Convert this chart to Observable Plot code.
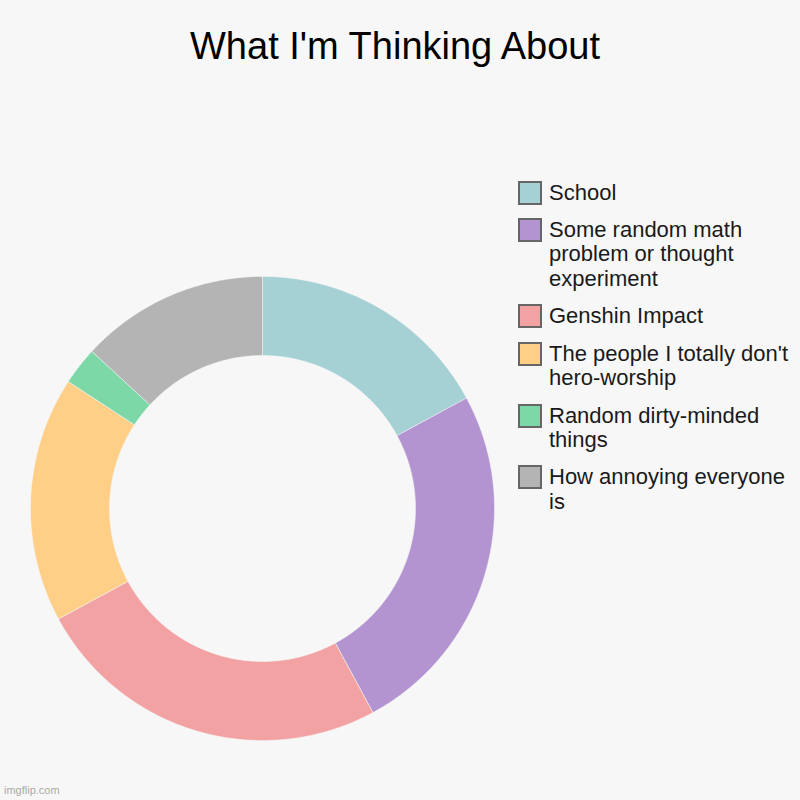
<!DOCTYPE html>
<html>
<head>
<meta charset="utf-8">
<script src="https://cdn.jsdelivr.net/npm/d3@7"></script>
<script src="https://cdn.jsdelivr.net/npm/@observablehq/plot@0.6"></script>
<style>
  html, body { margin: 0; padding: 0; background: #f7f7f7; }
  #page { position: relative; width: 800px; height: 800px; background: #f7f7f7; overflow: hidden; font-family: "Liberation Sans", Arial, sans-serif; }
  #title { position: absolute; left: 0; top: 27px; width: 790px; text-align: center; font-size: 38px; line-height: 38px; color: #000; }
  #chart { position: absolute; left: 0; top: 80px; }
  #legend { position: absolute; left: 518px; top: 180.5px; }
  .item { display: flex; align-items: flex-start; margin-bottom: 12.9px; }
  .swatch { width: 24px; height: 24px; box-sizing: border-box; border: 2px solid #666; flex: none; }
  .label { margin-left: 7px; width: 245px; font-size: 22px; line-height: 24.5px; color: #1a1a1a; }
  #footer { position: absolute; left: 4px; top: 785px; font-size: 11px; line-height: 11px; color: #aaa; }
</style>
</head>
<body>
<div id="page">
  <div id="title"></div>
  <div id="chart"></div>
  <div id="legend"></div>
  <div id="footer">imgflip.com</div>
</div>
<script>
const title = "What I'm Thinking About";
const categories = [
  "School",
  "Some random math problem or thought experiment",
  "Genshin Impact",
  "The people I totally don't hero-worship",
  "Random dirty-minded things",
  "How annoying everyone is"
];
const values = [6.5, 9.5, 9.5, 6.5, 1, 5];
const colors = ["#a5d0d4", "#b394d0", "#f3a2a3", "#ffcf88", "#7dd8a8", "#b4b4b4"];

document.getElementById("title").textContent = title;

// Build slice polygons from the data with d3.pie (0 = 12 o'clock, clockwise)
const innerRatio = 153 / 232;
const arcs = d3.pie().sort(null).value(d => d)(values);
const points = [];
arcs.forEach((a, i) => {
  const n = Math.max(4, Math.ceil((a.endAngle - a.startAngle) / (Math.PI / 360)));
  const outer = d3.range(n + 1).map(k => a.startAngle + (a.endAngle - a.startAngle) * k / n);
  for (const t of outer) points.push({category: categories[i], x: Math.sin(t), y: Math.cos(t)});
  for (const t of outer.slice().reverse()) points.push({category: categories[i], x: innerRatio * Math.sin(t), y: innerRatio * Math.cos(t)});
  points.push({category: categories[i], x: Math.sin(a.startAngle), y: Math.cos(a.startAngle)});
});

const chart = Plot.plot({
  width: 510,
  height: 720,
  x: {domain: [-1, 1], range: [30, 494], axis: null},
  y: {domain: [-1, 1], range: [660, 196], axis: null},
  color: {type: "ordinal", domain: categories, range: colors},
  style: {background: "transparent"},
  marks: [
    Plot.line(points, {x: "x", y: "y", z: "category", fill: "category", stroke: "#f7f7f7", strokeWidth: 0.5, curve: "linear"})
  ]
});
document.getElementById("chart").appendChild(chart);

const legend = document.getElementById("legend");
categories.forEach((c, i) => {
  const item = document.createElement("div");
  item.className = "item";
  const sw = document.createElement("div");
  sw.className = "swatch";
  sw.style.background = colors[i];
  const lb = document.createElement("div");
  lb.className = "label";
  lb.textContent = c;
  item.appendChild(sw);
  item.appendChild(lb);
  legend.appendChild(item);
});
</script>
</body>
</html>
